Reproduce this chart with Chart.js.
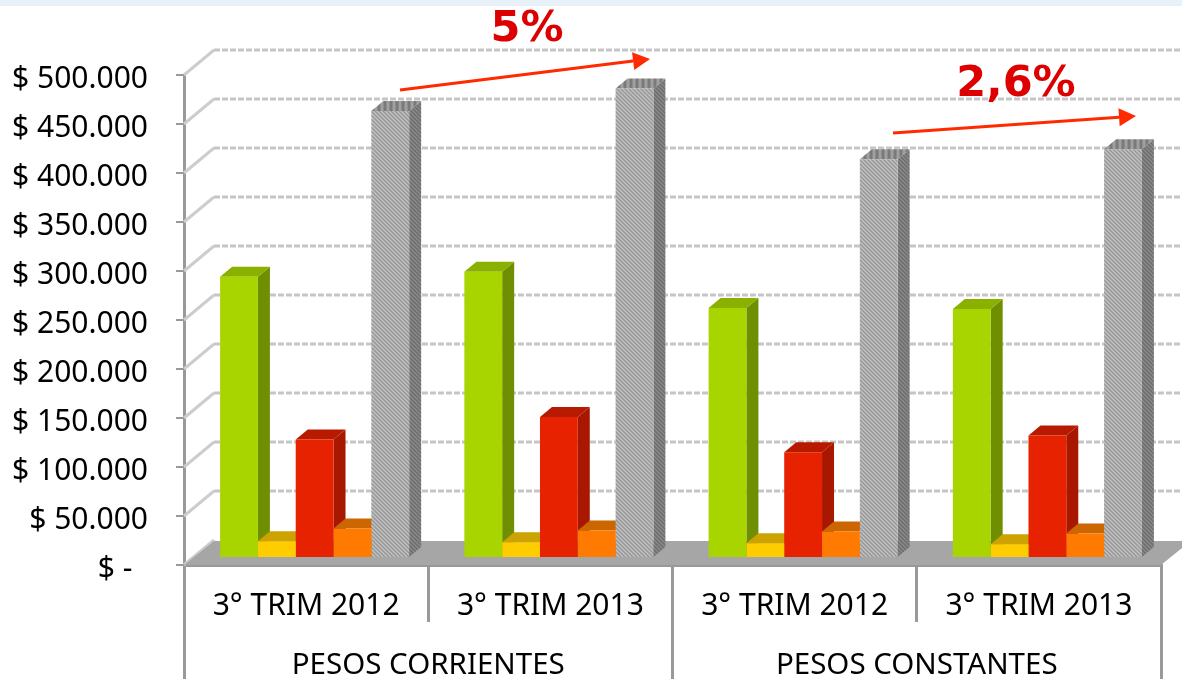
<!DOCTYPE html>
<html>
<head>
<meta charset="utf-8">
<style>
  html, body { margin: 0; background: #fff; overflow: hidden; }
  canvas { display: block; }
</style>
<script src="https://cdn.jsdelivr.net/npm/chart.js@4"></script>
</head>
<body>
<canvas id="chart" width="1182" height="679"></canvas>
<script>
// datos (en miles de pesos)
const periods = ['3° TRIM 2012', '3° TRIM 2013', '3° TRIM 2012', '3° TRIM 2013'];
const groups = ['PESOS CORRIENTES', 'PESOS CONSTANTES'];
const serieVerde = [287000, 292000, 255000, 254000];
const serieAmarilla = [17000, 16000, 15000, 14000];
const serieRoja = [121000, 144000, 108000, 125000];
const serieNaranja = [30000, 28000, 27000, 25000];
const serieGris = [456000, 479000, 407000, 417000];
const yMax = 500000;
const yStep = 50000;

// profundidad del efecto 3D
const wallDx = 30, wallDy = 25;
const barDx = 8.5, barDy = 7;
const sideDx = 12, sideDy = 10;

function hatch(bg, fg) {
  const c = document.createElement('canvas');
  c.width = 4; c.height = 4;
  const g = c.getContext('2d');
  g.fillStyle = bg;
  g.fillRect(0, 0, 4, 4);
  g.fillStyle = fg;
  g.fillRect(0, 0, 2, 1);
  g.fillRect(1, 1, 2, 1);
  g.fillRect(2, 2, 2, 1);
  g.fillRect(3, 3, 1, 1);
  g.fillRect(0, 3, 1, 1);
  return g.createPattern(c, 'repeat');
}
function stripes(a, b) {
  const c = document.createElement('canvas');
  c.width = 6; c.height = 2;
  const g = c.getContext('2d');
  g.fillStyle = a;
  g.fillRect(0, 0, 6, 2);
  g.fillStyle = b;
  g.fillRect(0, 0, 3, 2);
  return g.createPattern(c, 'repeat');
}

const canvas = document.getElementById('chart');
const ctx = canvas.getContext('2d');

const front = ['#a8d400', '#ffcc00', '#e62200', '#ff7a00', hatch('#c2c2c2', '#979797')];
const sides = ['#6f8f00', '#b89300', '#a81800', '#b85500', hatch('#8a8a8a', '#6c6c6c')];
const tops = ['#8ab000', '#cca300', '#b81a00', '#cc6600', stripes('#7a7a7a', '#a0a0a0')];

function poly(c, pts, fill) {
  c.fillStyle = fill;
  c.beginPath();
  pts.forEach((p, i) => i ? c.lineTo(p[0], p[1]) : c.moveTo(p[0], p[1]));
  c.closePath();
  c.fill();
}

const box3d = {
  id: 'box3d',
  beforeDraw(chart) {
    const c = chart.ctx;
    // franja clara de la diapositiva
    c.fillStyle = '#e8f1f8';
    c.fillRect(0, 0, chart.width, 6);
  },
  beforeDatasetsDraw(chart) {
    const c = chart.ctx;
    const area = chart.chartArea;
    const y = chart.scales.y;

    // paredes: diagonal + linea punteada
    c.save();
    y.ticks.forEach(t => {
      const py = y.getPixelForValue(t.value);
      c.strokeStyle = '#cdcdcd';
      c.lineWidth = 3;
      c.setLineDash([]);
      c.beginPath();
      c.moveTo(area.left, py);
      c.lineTo(area.left + wallDx, py - wallDy);
      c.stroke();
      if (t.value > 0) {
        c.setLineDash([6, 2]);
        c.strokeStyle = '#c6c6c6';
        c.beginPath();
        c.moveTo(area.left + wallDx, py - wallDy);
        c.lineTo(chart.width, py - wallDy);
        c.stroke();
      }
    });
    c.restore();

    // piso
    const y0 = y.getPixelForValue(0);
    poly(c, [
      [area.left, y0],
      [area.left + wallDx, y0 - wallDy + 1],
      [chart.width, y0 - wallDy + 1],
      [chart.width, y0 - 17],
      [area.right, y0]
    ], '#a6a6a6');

    c.save();
    c.translate(barDx, -barDy);
    // caras laterales y superiores, de izquierda a derecha
    chart.data.datasets.forEach((ds, i) => {
      chart.getDatasetMeta(i).data.forEach(bar => {
        const r = bar.x + bar.width / 2;
        const l = bar.x - bar.width / 2;
        const base = bar.base;
        const top = bar.y;
        poly(c, [[r, top], [r + sideDx, top - sideDy], [r + sideDx, base - sideDy], [r, base]], sides[i]);
        poly(c, [[l, top], [l + sideDx, top - sideDy], [r + sideDx, top - sideDy], [r, top]], tops[i]);
      });
    });
  },
  afterDatasetsDraw(chart) {
    chart.ctx.restore();
  },
  afterDraw(chart) {
    const c = chart.ctx;
    arrow(c, 400, 90, 650, 59);
    arrow(c, 893, 133, 1136, 116);
    c.fillStyle = '#dd0000';
    c.font = 'bold 43px "DejaVu Sans", sans-serif';
    c.textAlign = 'center';
    c.textBaseline = 'middle';
    c.fillText('5%', 527, 30);
    c.fillText('2,6%', 1016, 85);
  }
};

function arrow(c, x1, y1, x2, y2) {
  const a = Math.atan2(y2 - y1, x2 - x1);
  const len = 17, w = 9;
  const bx = x2 - Math.cos(a) * len;
  const by = y2 - Math.sin(a) * len;
  c.strokeStyle = '#ff2a00';
  c.lineWidth = 3;
  c.beginPath();
  c.moveTo(x1, y1);
  c.lineTo(bx, by);
  c.stroke();
  poly(c, [
    [x2, y2],
    [bx - Math.sin(a) * w, by + Math.cos(a) * w],
    [bx + Math.sin(a) * w, by - Math.cos(a) * w]
  ], '#ff2a00');
}

function makeSet(data, i) {
  return {
    data: data,
    backgroundColor: front[i],
    borderWidth: 0,
    barPercentage: 1,
    categoryPercentage: 0.774,
    clip: false
  };
}

new Chart(ctx, {
  type: 'bar',
  data: {
    labels: periods,
    datasets: [serieVerde, serieAmarilla, serieRoja, serieNaranja, serieGris].map(makeSet)
  },
  options: {
    responsive: false,
    animation: false,
    layout: { padding: { top: 75, right: 21, left: 0, bottom: 0 } },
    plugins: { legend: { display: false }, tooltip: { enabled: false } },
    scales: {
      y: {
        min: 0,
        max: yMax,
        afterFit(scale) { scale.width = 184; },
        grid: { drawOnChartArea: false, tickLength: 8, color: '#999', lineWidth: 2 },
        border: { color: '#999', width: 3 },
        ticks: {
          stepSize: yStep,
          padding: 28,
          color: '#000',
          // linea vacia arriba: baja el texto unos px respecto de la marca
          font: { family: '"Noto Sans", sans-serif', size: 30, lineHeight: 0.3 },
          callback(value) {
            if (value === 0) return ['', '$ -  '];
            return ['', '$ ' + new Intl.NumberFormat('de-DE').format(value)];
          }
        }
      },
      x: {
        position: 'bottom',
        afterFit(scale) { scale.height = 57; },
        grid: { drawOnChartArea: false, offset: true, tickLength: 57, color: '#999', lineWidth: 3 },
        border: { color: '#999', width: 3 },
        ticks: {
          padding: -34,
          color: '#000',
          maxRotation: 0,
          font: { family: '"Noto Sans", sans-serif', size: 30 }
        }
      },
      x2: {
        type: 'category',
        axis: 'x',
        position: 'bottom',
        labels: groups,
        afterFit(scale) { scale.height = 57; },
        grid: { drawOnChartArea: false, offset: true, tickLength: 57, color: '#999', lineWidth: 3 },
        border: { display: false },
        ticks: {
          padding: -31,
          color: '#000',
          maxRotation: 0,
          font: { family: '"Noto Sans", sans-serif', size: 29.5 }
        }
      }
    }
  },
  plugins: [box3d]
});
</script>
</body>
</html>
